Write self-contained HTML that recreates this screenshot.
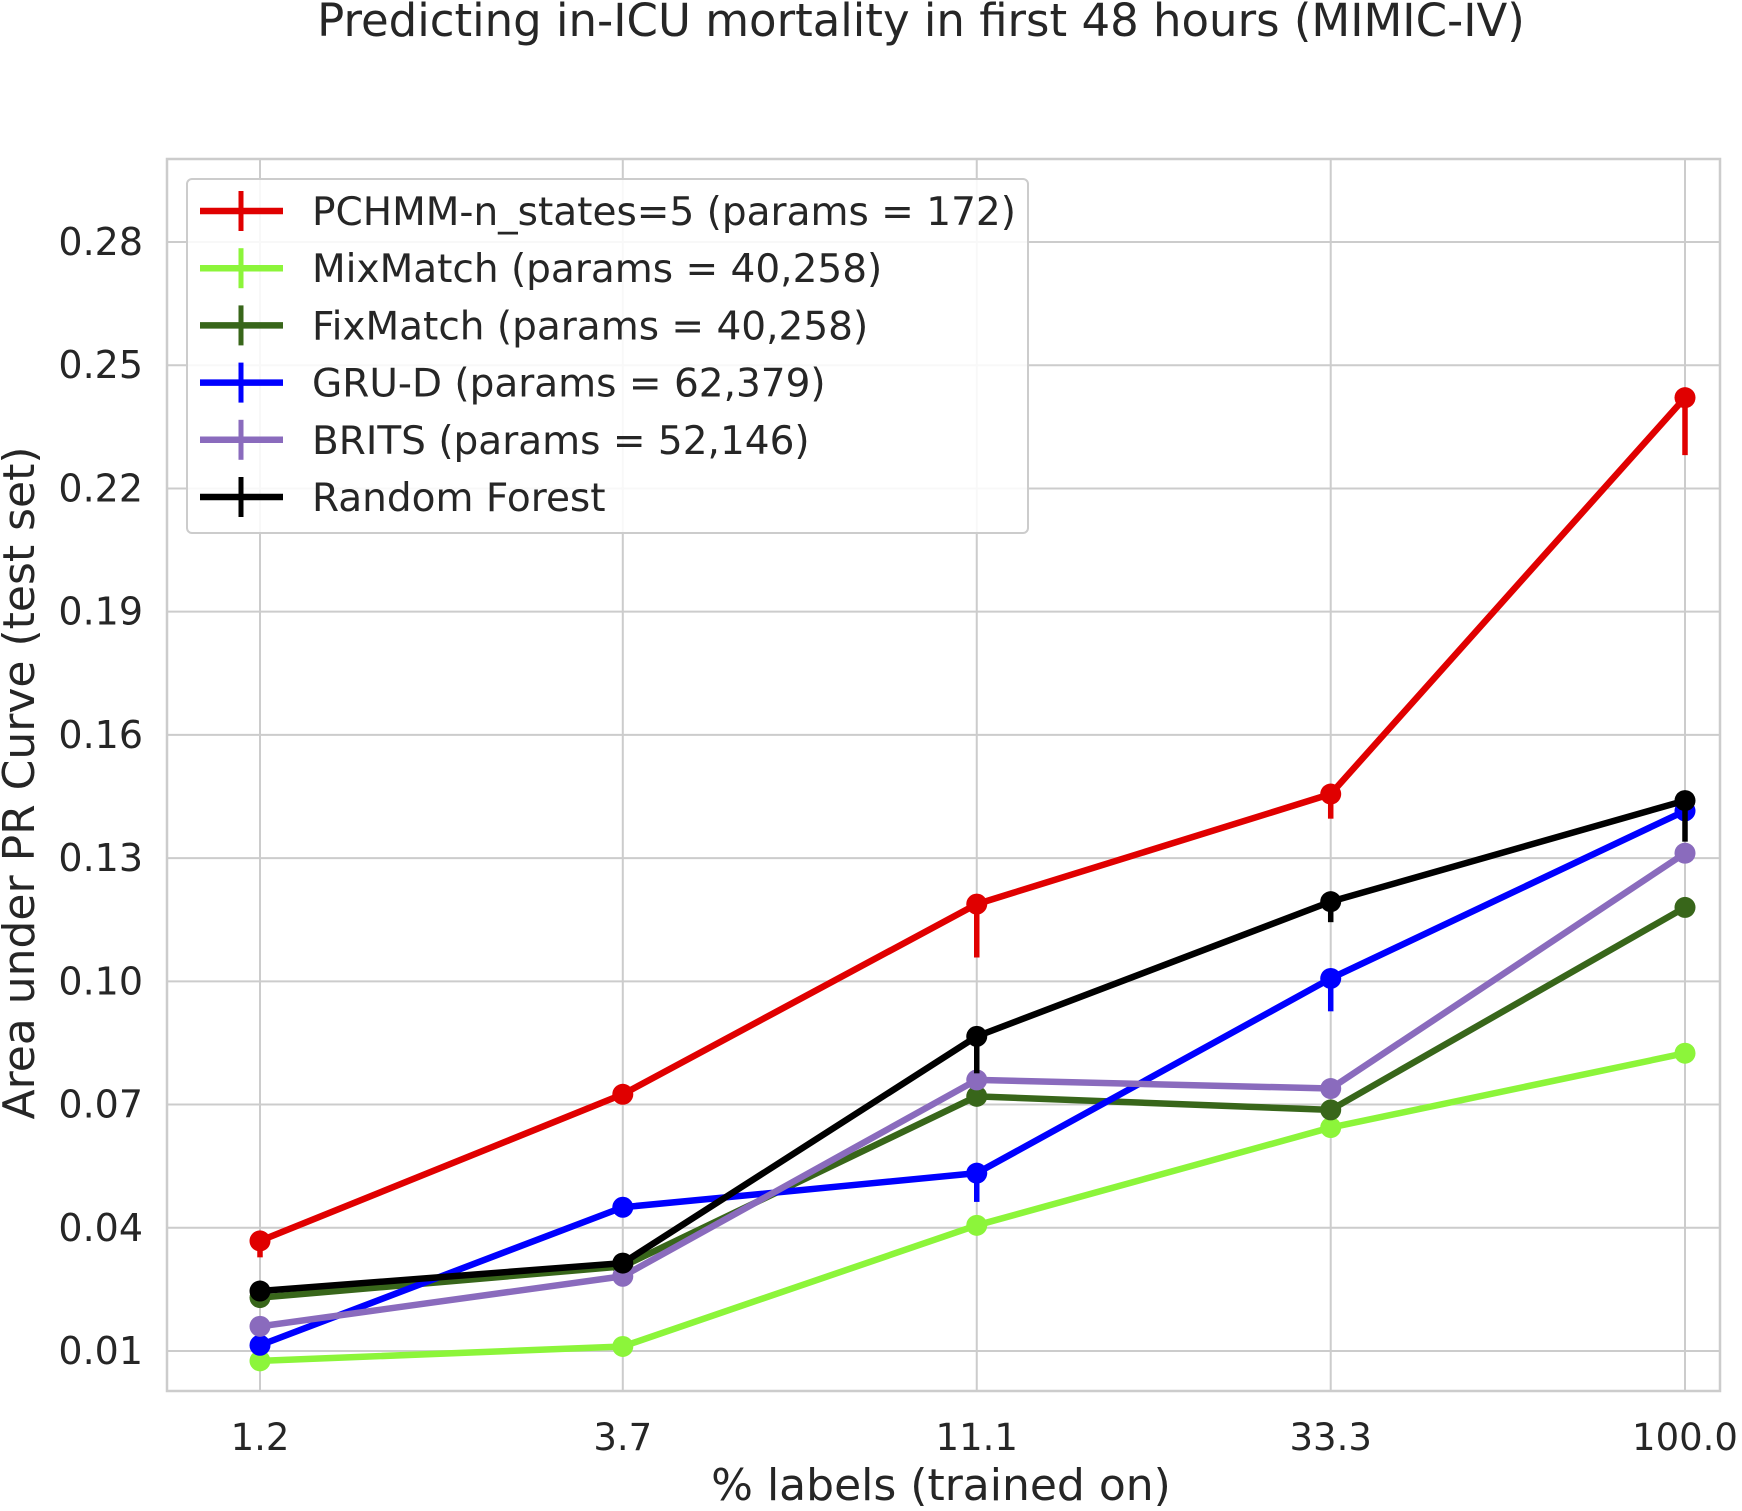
<!DOCTYPE html>
<html><head><meta charset="utf-8"><style>
html,body{margin:0;padding:0;background:#fff}
svg{display:block;font-family:"DejaVu Sans","Liberation Sans",sans-serif}
</style></head><body>
<svg id="chart" width="1742" height="1511" viewBox="0 0 1742 1511" xmlns="http://www.w3.org/2000/svg">
<text x="921" y="36" text-anchor="middle" font-size="45" fill="#262626">Predicting in-ICU mortality in first 48 hours (MIMIC-IV)</text>
<g id="grid"></g><g id="series"></g><g id="legend"></g>
<text x="941" y="1500" text-anchor="middle" font-size="44" fill="#262626">% labels (trained on)</text>
<text transform="translate(34,783) rotate(-90)" text-anchor="middle" font-size="44" fill="#262626">Area under PR Curve (test set)</text>
</svg>
<script>
const categories = [1.2,3.7,11.1,33.3,100.0];
const categoryLabels = ["1.2","3.7","11.1","33.3","100.0"];
const yTicks = [0.01,0.04,0.07,0.10,0.13,0.16,0.19,0.22,0.25,0.28];
const seriesNames = ["PCHMM-n_states=5 (params = 172)","MixMatch (params = 40,258)","FixMatch (params = 40,258)","GRU-D (params = 62,379)","BRITS (params = 52,146)","Random Forest"];
const seriesColors = ["#e00000","#8cf53a","#38661a","#0000ff","#8a6bbd","#000000"];
const pchmm = [0.0368,0.0725,0.1188,0.1456,0.2421];
const mixmatch = [0.0076,0.0111,0.0406,0.0644,0.0825];
const fixmatch = [0.0230,0.0306,0.0720,0.0687,0.1180];
const grud = [0.0114,0.0450,0.0533,0.1007,0.1415];
const brits = [0.0160,0.0282,0.0760,0.0739,0.1312];
const rf = [0.0246,0.0314,0.0866,0.1194,0.1440];
const pchmmErr = [0.004,0.002,0.013,0.006,0.014];
const mixmatchErr = [0.001,0.001,0.001,0.001,0.001];
const fixmatchErr = [0.001,0.001,0.001,0.001,0.001];
const grudErr = [0.001,0.001,0.007,0.008,0.001];
const britsErr = [0.001,0.001,0.001,0.001,0.001];
const rfErr = [0.001,0.001,0.009,0.005,0.010];
const allValues = [pchmm,mixmatch,fixmatch,grud,brits,rf];
const allErr = [pchmmErr,mixmatchErr,fixmatchErr,grudErr,britsErr,rfErr];

const NS="http://www.w3.org/2000/svg";
const L=167,R=1720,T=159,B=1391;
const x0=260,x1=1685;
const lmin=Math.log(categories[0]),lmax=Math.log(categories[categories.length-1]);
function xScale(v){return x0+(Math.log(v)-lmin)/(lmax-lmin)*(x1-x0);}
function yScale(v){return 1351+(0.01-v)*(1351-242)/0.27;}
function mk(tag,attrs,parent){const e=document.createElementNS(NS,tag);for(const k in attrs)e.setAttribute(k,attrs[k]);parent.appendChild(e);return e;}
const grid=document.getElementById('grid');
yTicks.forEach(v=>{
  const y=yScale(v);
  const g=mk('line',{x1:L,x2:R,y1:y,y2:y,stroke:'#cccccc','stroke-width':2},grid);
  
  
  const t=mk('text',{x:143,y:y+13,'text-anchor':'end','font-size':38,fill:'#262626'},grid);
  t.textContent=v.toFixed(2);
  
  
});
categories.forEach((c,i)=>{
  const x=xScale(c);
  const g=mk('line',{x1:x,x2:x,y1:T,y2:B,stroke:'#cccccc','stroke-width':2},grid);
  
  
  const t=mk('text',{x:x,y:1450,'text-anchor':'middle','font-size':37,fill:'#262626'},grid);
  t.textContent=categoryLabels[i];
  
  
});
const fr=mk('rect',{x:L,y:T,width:R-L,height:B-T,fill:'none',stroke:'#cccccc','stroke-width':2.5},grid);


const sg=document.getElementById('series');
allValues.forEach((vals,s)=>{
  const col=seriesColors[s];
  const g=mk('g',{},sg);
  
  
  vals.forEach((v,i)=>{
    const e=mk('line',{x1:xScale(categories[i]),x2:xScale(categories[i]),y1:yScale(v),y2:yScale(v-allErr[s][i]),stroke:col,'stroke-width':5.5},g);
    
    
  });
  const p=mk('polyline',{points:vals.map((v,i)=>xScale(categories[i])+','+yScale(v)).join(' '),fill:'none',stroke:col,'stroke-width':6.5,'stroke-linejoin':'round'},g);
  
  
  vals.forEach((v,i)=>{
    const c=mk('circle',{cx:xScale(categories[i]),cy:yScale(v),r:10.5,fill:col},g);
    
    
  });
});
const lg=document.getElementById('legend');
const box=mk('rect',{x:187,y:179,width:841,height:354,rx:5,fill:'#ffffff','fill-opacity':0.85,stroke:'#cccccc','stroke-width':2},lg);


seriesNames.forEach((n,s)=>{
  const y=211+s*57.2;
  const g=mk('g',{},lg);
  
  
  mk('line',{x1:200,x2:283,y1:y,y2:y,stroke:seriesColors[s],'stroke-width':6.5},g);
  mk('line',{x1:241,x2:241,y1:y-20,y2:y+20,stroke:seriesColors[s],'stroke-width':5},g);
  const t=mk('text',{x:312,y:y+14,'font-size':39,fill:'#262626'},g);
  t.textContent=n;
});
</script>
</body></html>
